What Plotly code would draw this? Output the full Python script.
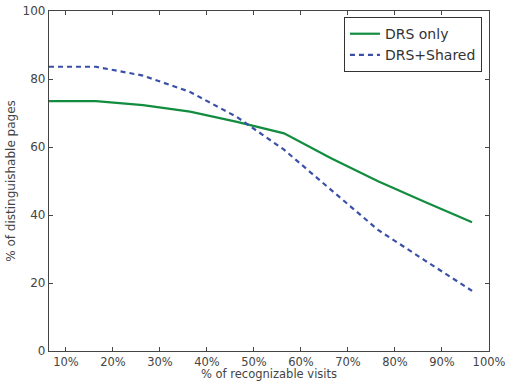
import plotly.graph_objects as go

x_vals = [6.4, 16.4, 26.4, 36.4, 46.4, 56.4, 66.4, 76.4, 86.4, 96.4]
drs_only = [73.5, 73.5, 72.3, 70.4, 67.4, 64.0, 56.7, 49.9, 43.8, 37.9]
drs_shared = [83.6, 83.6, 81.0, 76.2, 68.8, 59.2, 47.4, 35.6, 26.6, 17.7]
x_ticks = [10, 20, 30, 40, 50, 60, 70, 80, 90, 100]
x_tick_labels = ["10%", "20%", "30%", "40%", "50%", "60%", "70%", "80%", "90%", "100%"]
y_ticks = [0, 20, 40, 60, 80, 100]

fig = go.Figure()
fig.add_trace(go.Scatter(x=x_vals, y=drs_only, mode="lines", name="DRS only",
                         line=dict(color="#128c3e", width=2.2)))
fig.add_trace(go.Scatter(x=x_vals, y=drs_shared, mode="lines", name="DRS+Shared",
                         line=dict(color="#3a50a8", width=2.2, dash="5px,4px")))

axis_common = dict(showgrid=False, zeroline=False, showline=True, linecolor="#444444",
                   linewidth=1.2, mirror="ticks", ticks="inside", ticklen=4,
                   tickcolor="#444444", automargin=False, ticklabeloverflow="allow")

fig.update_layout(
    width=506, height=381,
    margin=dict(l=49, r=17, t=11, b=30),
    paper_bgcolor="white", plot_bgcolor="white",
    font=dict(family="DejaVu Sans", color="#444444"),
    xaxis=dict(range=[6.4, 100.0001], tickvals=x_ticks, ticktext=x_tick_labels,
               tickfont=dict(family="DejaVu Sans", size=11.5, color="#444444"),
               **axis_common),
    yaxis=dict(range=[0, 100.0001], tickvals=y_ticks,
               tickfont=dict(family="DejaVu Sans", size=12, color="#444444"),
               title=dict(text="% of distinguishable pages", font=dict(size=12, color="#444444"), standoff=4),
               **axis_common),
    legend=dict(x=0.984, y=0.982, xanchor="right", yanchor="top",
                bgcolor="white", bordercolor="#333333", borderwidth=1,
                font=dict(family="DejaVu Sans", size=14, color="#333333"),
                itemwidth=30, tracegroupgap=0),
    annotations=[dict(text="% of recognizable visits", xref="paper", yref="paper",
                      x=0.5, y=-0.088, xanchor="center", yanchor="bottom", showarrow=False,
                      borderpad=0, yshift=-1,
                      font=dict(family="DejaVu Sans", size=11.5, color="#444444"))],
)

fig.write_html("out.html", config={"displayModeBar": False},
               post_script="document.body.style.margin='0';document.body.style.padding='0';")
